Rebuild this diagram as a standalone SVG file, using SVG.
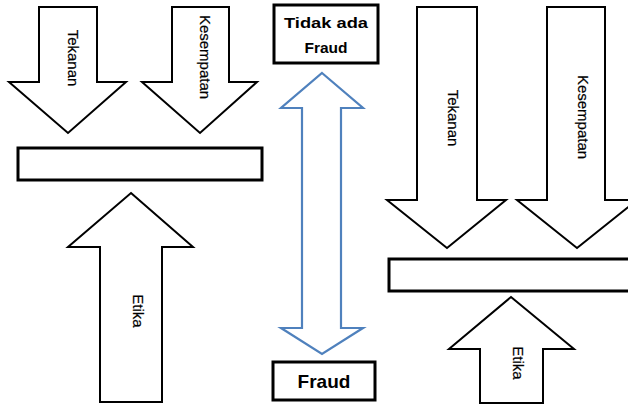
<svg xmlns="http://www.w3.org/2000/svg" width="628" height="405" viewBox="0 0 628 405">
<style>
.arr{fill:#fff;stroke:#000;stroke-width:2;stroke-linejoin:miter}
.bar{fill:#fff;stroke:#000;stroke-width:3}
.lbl{font-family:"Liberation Sans",Arial,sans-serif;font-size:15px;fill:#000;text-anchor:middle;stroke:#000;stroke-width:0.2}
.bold{font-family:"Liberation Sans",Arial,sans-serif;font-weight:bold;fill:#000;text-anchor:middle}
.dbl{fill:#fff;stroke:#4f81bd;stroke-width:2.2}
</style>
<rect width="628" height="405" fill="#fff"/>
<g id="left-tekanan">
<polygon class="arr" points="39,7 97,7 97,82 126,82 68,133 9,82 39,82"/>
<text class="lbl" transform="translate(68,58) rotate(90)">Tekanan</text>
</g>
<g id="left-kesempatan">
<polygon class="arr" points="172,7 229,7 229,82 257,82 200,133 142,82 172,82"/>
<text class="lbl" transform="translate(200,57) rotate(90)">Kesempatan</text>
</g>
<g id="left-bar">
<rect class="bar" x="18" y="148" width="244" height="32"/>
</g>
<g id="left-etika">
<polygon class="arr" points="131,193 193,247 162,247 162,402 100,402 100,247 68,247"/>
<text class="lbl" transform="translate(133,311) rotate(90)">Etika</text>
</g>
<g id="tidak-ada-fraud">
<rect class="bar" x="274" y="5" width="104" height="58"/>
<text class="bold" x="326" y="28" font-size="15" textLength="84" lengthAdjust="spacingAndGlyphs">Tidak ada</text>
<text class="bold" x="326" y="53" font-size="15.5">Fraud</text>
</g>
<g id="fraud">
<rect class="bar" x="273" y="362" width="102" height="38"/>
<text class="bold" x="324" y="388" font-size="19">Fraud</text>
</g>
<g id="connectors">
<polygon class="dbl" points="322,73 363,108 341,108 341,328 363,328 322,354 281,328 302,328 302,108 281,108"/>
</g>
<g id="right-tekanan">
<polygon class="arr" points="417,7 477,7 477,200 506,200 447,248 387,200 417,200"/>
<text class="lbl" transform="translate(448,118) rotate(90)">Tekanan</text>
</g>
<g id="right-kesempatan">
<polygon class="arr" points="547,7 605,7 605,200 637,200 577,248 517,200 547,200"/>
<text class="lbl" transform="translate(578,117) rotate(90)">Kesempatan</text>
</g>
<g id="right-bar">
<rect class="bar" x="389" y="259" width="260" height="32"/>
</g>
<g id="right-etika">
<polygon class="arr" points="511,297 574,349 543,349 543,403 480,403 480,349 449,349"/>
<text class="lbl" transform="translate(513,363) rotate(90)">Etika</text>
</g>
</svg>
